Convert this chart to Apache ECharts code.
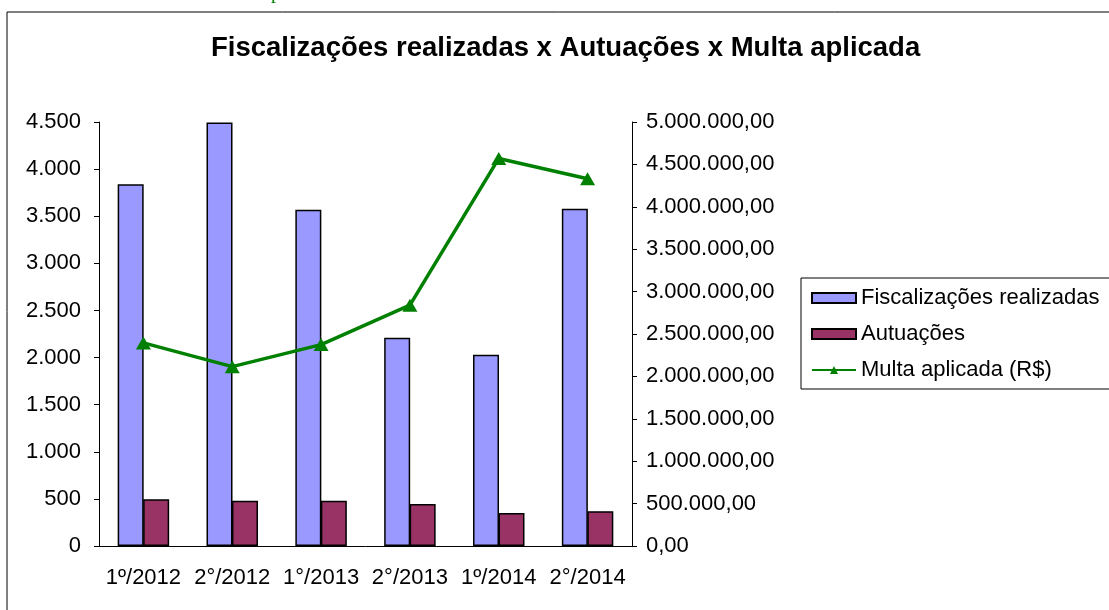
<!DOCTYPE html>
<html>
<head>
<meta charset="utf-8">
<script src="https://cdn.jsdelivr.net/npm/echarts@6/dist/echarts.min.js"></script>
<style>
    html, body { margin: 0; padding: 0; background: #fff; }
    #chart { width: 1109px; height: 610px; }
</style>
</head>
<body>
<div id="chart"></div>
<script>
const categories = ['1º/2012', '2°/2012', '1°/2013', '2°/2013', '1º/2014', '2°/2014']
const fiscalizacoes = [3840, 4495, 3570, 2210, 2030, 3580]
const autuacoes = [495, 480, 480, 445, 350, 370]
const multa = [2395000, 2115000, 2375000, 2840000, 4570000, 4330000]

const font = 'Liberation Sans, Arial, sans-serif'

function milhar(v) {
    return String(v).replace(/\B(?=(\d{3})+(?!\d))/g, '.')
}

const myChart = echarts.init(document.getElementById('chart'))

const option = {
    backgroundColor: '#fff',
    animation: false,
    textStyle: { fontFamily: font, color: '#000' },
    graphic: [
        {
            type: 'rect',
            shape: { x: 7, y: 12, width: 1200, height: 700 },
            style: { fill: 'none', stroke: '#000', lineWidth: 1 },
            silent: true,
        },
        {
            type: 'text',
            x: 271,
            y: 3,
            style: {
                text: 'p',
                fill: '#008000',
                font: '20px Liberation Serif, serif',
                verticalAlign: 'bottom',
            },
            silent: true,
        },
    ],
    title: {
        text: 'Fiscalizações realizadas x Autuações x Multa aplicada',
        left: 211,
        top: 34,
        padding: 0,
        textStyle: {
            fontFamily: font,
            fontSize: 27.5,
            fontWeight: 'bold',
            color: '#000',
        },
    },
    legend: {
        orient: 'vertical',
        left: 801,
        top: 278,
        padding: [9, 40, 8, 10],
        borderColor: '#000',
        borderWidth: 1,
        itemWidth: 44,
        itemHeight: 10,
        itemGap: 14,
        textStyle: { fontFamily: font, fontSize: 22, color: '#000' },
        data: [
            { name: 'Fiscalizações realizadas', icon: 'rect' },
            { name: 'Autuações', icon: 'rect' },
            { name: 'Multa aplicada (R$)' },
        ],
    },
    grid: {
        left: 99,
        right: 477,
        top: 122,
        bottom: 64,
    },
    xAxis: {
        type: 'category',
        data: categories,
        axisLine: { lineStyle: { color: '#000', width: 1 } },
        axisTick: { length: 5, lineStyle: { color: '#000' } },
        axisLabel: { color: '#000', fontSize: 22, fontFamily: font, margin: 21, interval: 0 },
    },
    yAxis: [
        {
            type: 'value',
            min: 0,
            max: 4500,
            interval: 500,
            axisLine: { show: true, lineStyle: { color: '#000' } },
            axisTick: { show: true, length: 5, lineStyle: { color: '#000' } },
            splitLine: { show: false },
            axisLabel: {
                color: '#000',
                fontSize: 22,
                fontFamily: font,
                margin: 18,
                formatter: v => milhar(v),
            },
        },
        {
            type: 'value',
            min: 0,
            max: 5000000,
            interval: 500000,
            axisLine: { show: true, lineStyle: { color: '#000' } },
            axisTick: { show: true, length: 5, lineStyle: { color: '#000' } },
            splitLine: { show: false },
            axisLabel: {
                color: '#000',
                fontSize: 22,
                fontFamily: font,
                margin: 14,
                formatter: v => milhar(v) + ',00',
            },
        },
    ],
    series: [
        {
            name: 'Fiscalizações realizadas',
            type: 'bar',
            data: fiscalizacoes,
            barWidth: 26,
            barGap: '-2%',
            itemStyle: { color: '#9999FF', borderColor: '#000', borderWidth: 1.5 },
        },
        {
            name: 'Autuações',
            type: 'bar',
            data: autuacoes,
            barWidth: 26,
            barGap: '-2%',
            itemStyle: { color: '#993366', borderColor: '#000', borderWidth: 1.5 },
        },
        {
            name: 'Multa aplicada (R$)',
            type: 'line',
            yAxisIndex: 1,
            data: multa,
            symbol: 'triangle',
            symbolSize: [15, 13],
            lineStyle: { color: '#008000', width: 3.5 },
            itemStyle: { color: '#008000' },
        },
    ],
}

myChart.setOption(option)
</script>
</body>
</html>
